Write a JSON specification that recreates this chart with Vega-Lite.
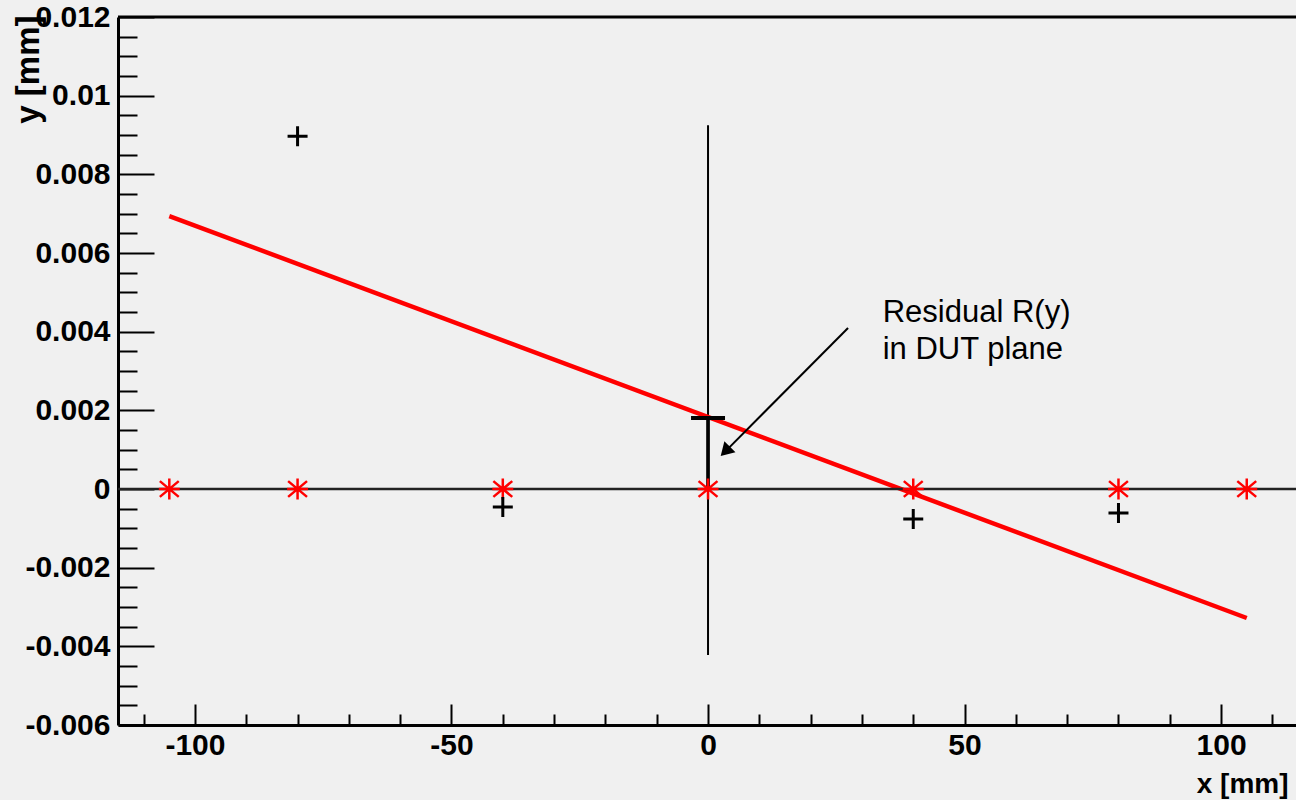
{
  "$schema": "https://vega.github.io/schema/vega-lite/v6.json",
  "width": 1178,
  "height": 708,
  "autosize": {"type": "none"},
  "padding": {"left": 118, "top": 17, "right": 0, "bottom": 75},
  "background": "#f0f0f0",
  "config": {"view": {"stroke": null}, "font": "Liberation Sans"},
  "resolve": {"axis": {"x": "independent", "y": "independent"}},
  "datasets": {
    "vline": [{"x": 0, "y": 0.00925, "y2": -0.00422}],
    "fit": [{"x": -105, "y": 0.00694}, {"x": 105, "y": -0.00328}],
    "residual": [{"x": 0, "y": 0, "y2": 0.001805}],
    "refpts": [{"x": -105, "y": 0}, {"x": -80, "y": 0}, {"x": -40, "y": 0}, {"x": 0, "y": 0}, {"x": 40, "y": 0}, {"x": 80, "y": 0}, {"x": 105, "y": 0}],
    "hits": [{"x": -80, "y": 0.00897}, {"x": -40, "y": -0.00046}, {"x": 40, "y": -0.00076}, {"x": 80, "y": -0.00061}],
    "arrow": [{"x": 27.29, "y": 0.004093}, {"x": 3.58, "y": 0.000983}],
    "arrowhead": [{"x": 2.475, "y": 0.000839}],
    "notes": [{"x": 34.05, "y": 0.004253, "text": "Residual R(y)"}, {"x": 34.05, "y": 0.003305, "text": "in DUT plane"}]
  },
  "layer": [
    {
      "data": {"name": "vline"},
      "mark": {"type": "rule", "color": "black", "strokeWidth": 2},
      "encoding": {
        "x": {"field": "x", "type": "quantitative",
          "scale": {"domain": [-115, 114.6], "nice": false, "zero": false},
          "axis": {
            "title": "x [mm]", "orient": "bottom", "grid": false,
            "values": [-100, -50, 0, 50, 100],
            "labelExpr": "'' + datum.value",
            "tickSize": -21, "tickWidth": 2, "tickColor": "black",
            "domainColor": "black", "domainWidth": 3,
            "labelFont": "Liberation Sans", "labelFontWeight": "bold", "labelFontSize": 30, "labelColor": "black",
            "labelPadding": 26, "labelFlush": false, "labelOverlap": false,
            "titleFont": "Liberation Sans", "titleFontWeight": "bold", "titleFontSize": 28, "titleColor": "black",
            "titleX": 1170, "titleY": 67, "titleAlign": "right", "titleBaseline": "alphabetic", "titleAnchor": null
          }
        },
        "y": {"field": "y", "type": "quantitative",
          "scale": {"domain": [-0.006, 0.012], "nice": false, "zero": false},
          "axis": {
            "title": "y [mm]", "orient": "left", "grid": false,
            "values": [-0.006, -0.004, -0.002, 0, 0.002, 0.004, 0.006, 0.008, 0.01, 0.012],
            "labelExpr": "'' + datum.value",
            "tickSize": -36, "tickWidth": 2, "tickColor": "black",
            "domainColor": "black", "domainWidth": 3,
            "labelFont": "Liberation Sans", "labelFontWeight": "bold", "labelFontSize": 30, "labelColor": "black",
            "labelPadding": 44, "labelFlush": false, "labelOverlap": false,
            "titleFont": "Liberation Sans", "titleFontWeight": "bold", "titleFontSize": 33, "titleColor": "black",
            "titleAngle": -90, "titleX": -80, "titleY": -2, "titleAlign": "right", "titleBaseline": "alphabetic", "titleAnchor": null
          }
        },
        "y2": {"field": "y2"}
      }
    },
    {
      "data": {"name": "fit"},
      "mark": {"type": "line", "color": "#ff0000", "strokeWidth": 4.5},
      "encoding": {
        "x": {"field": "x", "type": "quantitative", "scale": {"domain": [-115, 114.6], "nice": false, "zero": false},
          "axis": {
            "title": null, "orient": "bottom", "grid": false, "labels": false, "domain": false,
            "values": [-110, -90, -80, -70, -60, -40, -30, -20, -10, 10, 20, 30, 40, 60, 70, 80, 90, 110],
            "tickSize": -11, "tickWidth": 2, "tickColor": "black"
          }
        },
        "y": {"field": "y", "type": "quantitative", "scale": {"domain": [-0.006, 0.012], "nice": false, "zero": false},
          "axis": {
            "title": null, "orient": "left", "grid": false, "labels": false, "domain": false,
            "values": [-0.0055, -0.005, -0.0045, -0.0035, -0.003, -0.0025, -0.0015, -0.001, -0.0005, 0.0005, 0.001, 0.0015, 0.0025, 0.003, 0.0035, 0.0045, 0.005, 0.0055, 0.0065, 0.007, 0.0075, 0.0085, 0.009, 0.0095, 0.0105, 0.011, 0.0115],
            "tickSize": -19, "tickWidth": 2, "tickColor": "black"
          }
        }
      }
    },
    {
      "data": {"values": [{"y": 0}]},
      "mark": {"type": "rule", "color": "#222222", "strokeWidth": 2.5},
      "encoding": {
        "y": {"field": "y", "type": "quantitative", "scale": {"domain": [-0.006, 0.012], "nice": false, "zero": false}, "axis": null}
      }
    },
    {
      "data": {"values": [{"y": 0.012}]},
      "mark": {"type": "rule", "color": "black", "strokeWidth": 3},
      "encoding": {
        "y": {"field": "y", "type": "quantitative", "scale": {"domain": [-0.006, 0.012], "nice": false, "zero": false}, "axis": null}
      }
    },
    {
      "data": {"name": "residual"},
      "mark": {"type": "rule", "color": "black", "strokeWidth": 3.7},
      "encoding": {
        "x": {"field": "x", "type": "quantitative", "scale": {"domain": [-115, 114.6], "nice": false, "zero": false}, "axis": null},
        "y": {"field": "y", "type": "quantitative", "scale": {"domain": [-0.006, 0.012], "nice": false, "zero": false}, "axis": null},
        "y2": {"field": "y2"}
      }
    },
    {
      "data": {"name": "residual"},
      "mark": {"type": "tick", "orient": "horizontal", "color": "black", "size": 34, "thickness": 4, "opacity": 1},
      "encoding": {
        "x": {"field": "x", "type": "quantitative", "scale": {"domain": [-115, 114.6], "nice": false, "zero": false}, "axis": null},
        "y": {"field": "y2", "type": "quantitative", "scale": {"domain": [-0.006, 0.012], "nice": false, "zero": false}, "axis": null}
      }
    },
    {
      "data": {"name": "refpts"},
      "mark": {"type": "point", "shape": "M0,-1L0,1M-1,0L1,0M-0.9,-0.75L0.9,0.75M-0.9,0.75L0.9,-0.75", "filled": false, "stroke": "#ff0000", "strokeWidth": 2.5, "size": 441, "opacity": 1},
      "encoding": {
        "x": {"field": "x", "type": "quantitative", "scale": {"domain": [-115, 114.6], "nice": false, "zero": false}, "axis": null},
        "y": {"field": "y", "type": "quantitative", "scale": {"domain": [-0.006, 0.012], "nice": false, "zero": false}, "axis": null}
      }
    },
    {
      "data": {"name": "hits"},
      "mark": {"type": "point", "shape": "M-1,0L1,0M0,-1L0,1", "filled": false, "stroke": "black", "strokeWidth": 3, "size": 400, "opacity": 1},
      "encoding": {
        "x": {"field": "x", "type": "quantitative", "scale": {"domain": [-115, 114.6], "nice": false, "zero": false}, "axis": null},
        "y": {"field": "y", "type": "quantitative", "scale": {"domain": [-0.006, 0.012], "nice": false, "zero": false}, "axis": null}
      }
    },
    {
      "data": {"name": "arrow"},
      "mark": {"type": "line", "color": "black", "strokeWidth": 2},
      "encoding": {
        "x": {"field": "x", "type": "quantitative", "scale": {"domain": [-115, 114.6], "nice": false, "zero": false}, "axis": null},
        "y": {"field": "y", "type": "quantitative", "scale": {"domain": [-0.006, 0.012], "nice": false, "zero": false}, "axis": null}
      }
    },
    {
      "data": {"name": "arrowhead"},
      "mark": {"type": "point", "shape": "M0,0L-0.6,1L0.6,1Z", "filled": true, "fill": "black", "strokeWidth": 0, "size": 676, "angle": 225, "opacity": 1},
      "encoding": {
        "x": {"field": "x", "type": "quantitative", "scale": {"domain": [-115, 114.6], "nice": false, "zero": false}, "axis": null},
        "y": {"field": "y", "type": "quantitative", "scale": {"domain": [-0.006, 0.012], "nice": false, "zero": false}, "axis": null}
      }
    },
    {
      "data": {"name": "notes"},
      "mark": {"type": "text", "align": "left", "baseline": "alphabetic", "font": "Liberation Sans", "fontSize": 31, "color": "black"},
      "encoding": {
        "x": {"field": "x", "type": "quantitative", "scale": {"domain": [-115, 114.6], "nice": false, "zero": false}, "axis": null},
        "y": {"field": "y", "type": "quantitative", "scale": {"domain": [-0.006, 0.012], "nice": false, "zero": false}, "axis": null},
        "text": {"field": "text"}
      }
    }
  ]
}
